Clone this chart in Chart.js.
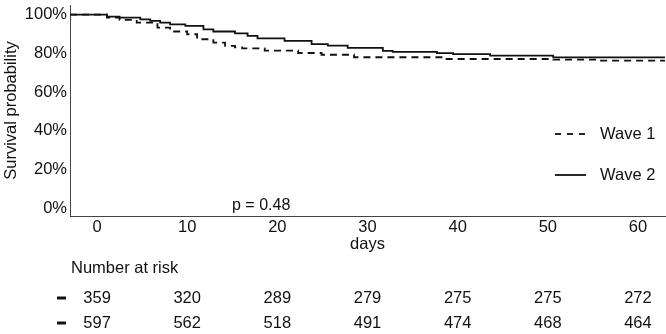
<!DOCTYPE html>
<html>
<head>
<meta charset="utf-8">
<script src="https://cdn.jsdelivr.net/npm/chart.js@4/dist/chart.umd.min.js"></script>
<style>
  body { margin: 0; background: #fff; }
  canvas { display: block; }
</style>
</head>
<body>
<canvas id="canvas" width="666" height="334"></canvas>
<script>
// survival curves (days, probability)
let wave1Days = [-3, 0, 1.1, 2.5, 4.4, 6.7, 8.1, 10, 11.1, 12.9, 14.2, 15.3, 16.1, 18.6, 22.3, 24.9, 28.5, 38.4, 50.6, 55.8, 63];
let wave1Surv = [1, 1, 0.985, 0.973, 0.959, 0.933, 0.913, 0.899, 0.873, 0.856, 0.839, 0.831, 0.826, 0.814, 0.802, 0.793, 0.780, 0.771, 0.768, 0.763, 0.763];
let wave2Days = [-3, 0, 1.1, 2.5, 4.8, 5.9, 7, 8.1, 9.8, 11.8, 12.9, 15.3, 16.7, 17.8, 20.8, 23.8, 25.6, 27.8, 31.7, 32.8, 37.7, 39.5, 43.6, 50.6, 63];
let wave2Surv = [1, 1, 0.990, 0.985, 0.976, 0.968, 0.959, 0.950, 0.942, 0.924, 0.913, 0.903, 0.891, 0.878, 0.865, 0.848, 0.840, 0.828, 0.813, 0.808, 0.801, 0.796, 0.788, 0.779, 0.778];

let xTicks = [0, 10, 20, 30, 40, 50, 60];
let yTicks = [0, 0.2, 0.4, 0.6, 0.8, 1];

// number at risk table
let riskTimes = [0, 10, 20, 30, 40, 50, 60];
let wave1Risk = [359, 320, 289, 279, 275, 275, 272];
let wave2Risk = [597, 562, 518, 491, 474, 468, 464];

let pText = 'p = 0.48';
let fontFam = '"Liberation Sans", Arial, Helvetica, sans-serif';
let ink = '#111';

function toPoints(xs, ys) {
    let pts = [];
    for (let i = 0; i < xs.length; i++) {
        pts.push({x: xs[i], y: ys[i]});
    }
    return pts;
}

// extra text: legend inside plot, p value, x title, risk table
let extras = {
    id: 'extras',
    afterDraw(chart) {
        let ctx = chart.ctx;
        let xs = chart.scales.x;
        ctx.save();
        ctx.fillStyle = ink;
        ctx.strokeStyle = ink;
        ctx.font = '16.5px ' + fontFam;
        ctx.textBaseline = 'middle';

        // legend
        ctx.lineWidth = 1.8;
        ctx.setLineDash([6, 6]);
        ctx.beginPath(); ctx.moveTo(555, 134); ctx.lineTo(587, 134); ctx.stroke();
        ctx.setLineDash([]);
        ctx.beginPath(); ctx.moveTo(555, 175); ctx.lineTo(586, 175); ctx.stroke();
        ctx.textAlign = 'left';
        ctx.fillText('Wave 1', 600, 134);
        ctx.fillText('Wave 2', 600, 175);

        // p value
        ctx.font = '16px ' + fontFam;
        ctx.fillText(pText, 232, 206);

        // x title
        ctx.font = '16.5px ' + fontFam;
        ctx.textAlign = 'center';
        ctx.fillText('days', xs.getPixelForValue(30), 244);

        // risk table
        ctx.textAlign = 'left';
        ctx.fillText('Number at risk', 71, 268);
        ctx.textAlign = 'center';
        let rows = [wave1Risk, wave2Risk];
        let rowY = [298, 323];
        for (let r = 0; r < rows.length; r++) {
            ctx.lineWidth = 3;
            ctx.beginPath(); ctx.moveTo(57, rowY[r]); ctx.lineTo(66, rowY[r]); ctx.stroke();
            for (let i = 0; i < riskTimes.length; i++) {
                ctx.fillText(String(rows[r][i]), xs.getPixelForValue(riskTimes[i]), rowY[r]);
            }
        }
        ctx.restore();
    }
};

let options = {
    type: 'line',
    data: {
        datasets: [{
            label: 'Wave 1',
            data: toPoints(wave1Days, wave1Surv),
            borderColor: ink,
            borderWidth: 1.8,
            borderDash: [7, 5],
            stepped: true,
            pointRadius: 0,
            fill: false
        }, {
            label: 'Wave 2',
            data: toPoints(wave2Days, wave2Surv),
            borderColor: ink,
            borderWidth: 1.8,
            stepped: true,
            pointRadius: 0,
            fill: false
        }]
    },
    options: {
        responsive: false,
        animation: false,
        layout: { padding: { left: 0, right: 1, top: 5, bottom: 0 } },
        plugins: { legend: { display: false }, tooltip: { enabled: false } },
        scales: {
            x: {
                type: 'linear',
                min: -3,
                max: 63,
                afterBuildTicks: function(scale) {
                    scale.ticks = xTicks.map(v => ({value: v}));
                },
                afterFit: function(scale) {
                    scale.height = 118;
                    scale.paddingLeft = 0;
                    scale.paddingRight = 0;
                },
                grid: { display: false, drawTicks: false },
                border: { display: true, color: '#444', width: 1 },
                ticks: {
                    padding: 2,
                    color: ink,
                    font: { family: fontFam, size: 16.5 },
                    maxRotation: 0
                }
            },
            y: {
                min: -0.04,
                max: 1.05,
                afterBuildTicks: function(scale) {
                    scale.ticks = yTicks.map(v => ({value: v}));
                },
                afterFit: function(scale) {
                    scale.width = 70;
                    scale.paddingTop = 0;
                    scale.paddingBottom = 0;
                },
                grid: { display: false, drawTicks: false },
                border: { display: true, color: '#444', width: 1 },
                ticks: {
                    padding: 3,
                    color: ink,
                    font: { family: fontFam, size: 16.5 },
                    callback: function(v) { return Math.round(v * 100) + '%'; }
                },
                title: {
                    display: true,
                    text: 'Survival probability',
                    color: ink,
                    padding: { top: 2, bottom: 0 },
                    font: { family: fontFam, size: 16.5 }
                }
            }
        }
    },
    plugins: [extras]
};

let chart = new Chart(document.getElementById('canvas'), options);
</script>
</body>
</html>
